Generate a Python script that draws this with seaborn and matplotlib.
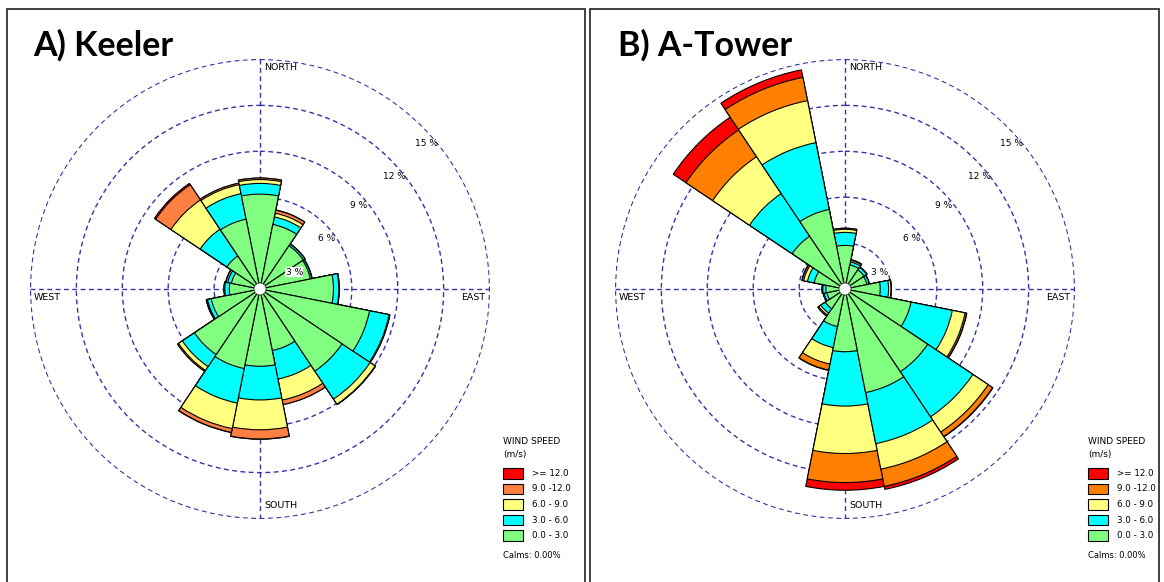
import numpy as np
import pandas as pd
import matplotlib
matplotlib.use('Agg')
import matplotlib.pyplot as plt
from matplotlib.patches import Rectangle, Circle
import seaborn as sns

sns.set_style('white')
plt.rcParams['font.family'] = ['DejaVu Sans']
plt.rcParams['text.color'] = 'black'

# 16 directions, N clockwise
directions = ['N', 'NNE', 'NE', 'ENE', 'E', 'ESE', 'SE', 'SSE',
              'S', 'SSW', 'SW', 'WSW', 'W', 'WNW', 'NW', 'NNW']
speed_labels = ['0.0 - 3.0', '3.0 - 6.0', '6.0 - 9.0', '9.0 -12.0', '>= 12.0']

# percent of time, per speed class (m/s)
keeler_0_3 = [6.2, 4.3, 3.4, 3.35, 4.8, 7.3, 6.45, 4.1, 5.05, 5.3, 5.15, 3.25, 2.0, 1.9, 2.6, 4.65]
keeler_3_6 = [0.7, 0.5, 0.12, 0.1, 0.35, 1.3, 2.2, 1.9, 2.2, 2.3, 0.95, 0.25, 0.3, 0.25, 2.1, 1.7]
keeler_6_9 = [0.25, 0.25, 0.02, 0.02, 0.03, 0.05, 0.4, 1.4, 1.95, 1.7, 0.3, 0.05, 0.05, 0.1, 2.3, 0.6]
keeler_9_12 = [0.1, 0.2, 0.0, 0.0, 0.0, 0.0, 0.03, 0.3, 0.6, 0.25, 0.08, 0.03, 0.0, 0.03, 1.2, 0.1]
keeler_12 = [0.0, 0.02, 0.0, 0.0, 0.0, 0.0, 0.0, 0.0, 0.02, 0.02, 0.0, 0.0, 0.0, 0.0, 0.1, 0.0]

atower_0_3 = [2.85, 1.6, 1.5, 1.45, 2.3, 4.4, 6.5, 6.9, 4.1, 2.5, 1.55, 1.2, 1.25, 2.05, 4.15, 5.3]
atower_3_6 = [0.85, 0.2, 0.2, 0.15, 0.55, 2.75, 3.55, 3.4, 3.55, 1.4, 0.35, 0.2, 0.2, 0.45, 3.35, 4.45]
atower_6_9 = [0.2, 0.1, 0.03, 0.02, 0.15, 0.85, 1.2, 1.7, 3.1, 1.1, 0.15, 0.05, 0.05, 0.25, 2.9, 2.8]
atower_9_12 = [0.07, 0.05, 0.0, 0.0, 0.03, 0.1, 0.35, 1.15, 1.9, 0.4, 0.08, 0.0, 0.0, 0.1, 2.1, 1.55]
atower_12 = [0.0, 0.0, 0.0, 0.0, 0.0, 0.02, 0.03, 0.2, 0.5, 0.03, 0.0, 0.0, 0.0, 0.03, 1.0, 0.5]

rings = [3, 6, 9, 12, 15]
ring_label_angle = [64, 53, 50, 50, 49]

keeler_colors = ['#80FF80', '#00FFFF', '#FFFF80', '#FF8040', '#FF0000']
atower_colors = ['#80FF80', '#00FFFF', '#FFFF80', '#FF8000', '#FF0000']
navy = '#3434A8'

W, H = 1164, 582
fig = plt.figure(figsize=(W / 100, H / 100), dpi=100)


def px(x, y):
    return x / W, 1 - y / H


theta = np.deg2rad(np.arange(16) * 22.5)
R = 230  # pixels for 15 %


def rose(cx, cy, title, classes, colors):
    ax = fig.add_axes([(cx - R) / W, (H - cy - R) / H, 2 * R / W, 2 * R / H], projection='polar')
    ax.set_theta_zero_location('N')
    ax.set_theta_direction(-1)
    ax.set_axisbelow(True)
    cum = np.cumsum(np.array(classes), axis=0)
    # outermost class first, inner classes drawn on top
    for k in range(4, -1, -1):
        d = pd.DataFrame({'theta': theta, 'pct': cum[k]})
        sns.barplot(data=d, x='theta', y='pct', native_scale=True, orient='x', width=1,
                    color=colors[k], saturation=1, edgecolor='black', linewidth=0.8,
                    errorbar=None, ax=ax)
    ax.set_xlabel('')
    ax.set_ylabel('')
    ax.set_xlim(0, 2 * np.pi)
    ax.set_ylim(0, 15.03)
    ax.set_yticks(rings)
    ax.set_xticks(np.deg2rad([0, 90, 180, 270]))
    ax.set_xticklabels([])
    ax.set_yticklabels([])
    ax.tick_params(length=0)
    ax.grid(True, color=navy, lw=1.0, ls=(0, (3.5, 2.5)))
    ax.spines['polar'].set_visible(False)
    ax.patch.set_alpha(0)
    ax.add_artist(Circle((0.5, 0.5), 6 / (2 * R), transform=ax.transAxes,
                         fc='white', ec='#444444', lw=0.6, zorder=6))
    for v, a in zip(rings, ring_label_angle):
        r = 2.5 if v == 3 else v - 0.55
        ax.text(np.deg2rad(a), r, f'{v} %', fontsize=6.5, ha='center', va='center', zorder=7,
                bbox=dict(fc='white', ec='none', pad=0.3) if v == 3 else None)

    fig.text(*px(cx + 4, 67), 'NORTH', fontsize=6.8, ha='left', va='center')
    fig.text(*px(cx - 226, 297), 'WEST', fontsize=6.8, ha='left', va='center')
    fig.text(*px(cx + 225, 297), 'EAST', fontsize=6.8, ha='right', va='center')
    fig.text(*px(cx + 4, 505), 'SOUTH', fontsize=6.8, ha='left', va='center')
    fig.text(*px(cx - 227, 56), title, fontsize=24.5, fontweight='bold', family=['Lato', 'DejaVu Sans'],
             ha='left', va='baseline')

    # legend
    lx = cx + 243
    fig.text(*px(lx, 442), 'WIND SPEED', fontsize=6.5, ha='left', va='center')
    fig.text(*px(lx, 454), '(m/s)', fontsize=6.5, ha='left', va='center')
    for i, k in enumerate(range(4, -1, -1)):
        top = 468 + i * 15.6
        x0, y0 = px(lx, top + 10.5)
        fig.add_artist(Rectangle((x0, y0), 19.5 / W, 10.5 / H, transform=fig.transFigure,
                                 fc=colors[k], ec='black', lw=0.8))
        fig.text(*px(lx + 29, top + 5.3), speed_labels[k], fontsize=6.3, ha='left', va='center')
    fig.text(*px(lx, 555), 'Calms: 0.00%', fontsize=6.0, ha='left', va='center')


rose(260, 289, 'A) Keeler',
     [keeler_0_3, keeler_3_6, keeler_6_9, keeler_9_12, keeler_12], keeler_colors)
rose(845, 289, 'B) A-Tower',
     [atower_0_3, atower_3_6, atower_6_9, atower_9_12, atower_12], atower_colors)

# panel frames
for x0, x1 in [(7, 585), (590, 1159)]:
    fx, fy = px(x0, 600)
    fig.add_artist(Rectangle((fx, fy), (x1 - x0) / W, (600 - 9.5) / H, transform=fig.transFigure,
                             fill=False, ec='#333333', lw=1.3))

fig.savefig('out.png', dpi=100)
